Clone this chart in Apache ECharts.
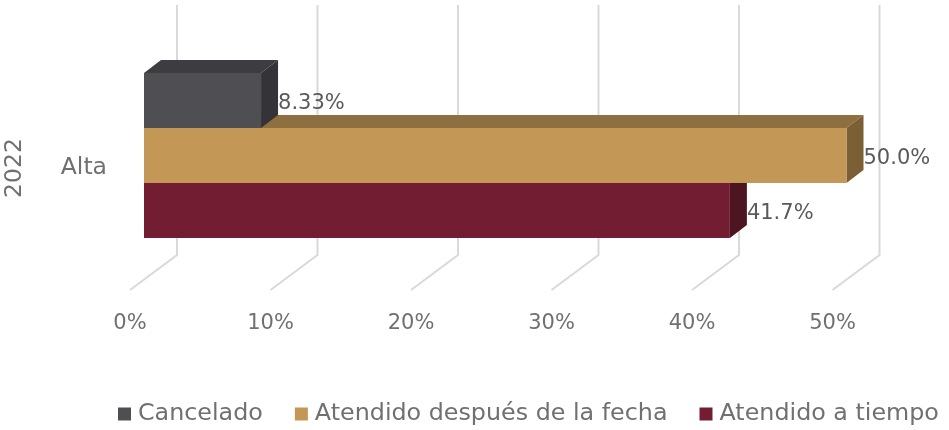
<!DOCTYPE html>
<html>
<head>
<meta charset="utf-8">
<script src="https://cdn.jsdelivr.net/npm/echarts@6/dist/echarts.min.js"></script>
<style>
	html,body{margin:0;padding:0;background:#fff;}
	#main{width:949px;height:430px;}
</style>
</head>
<body>
<div id="main"></div>
<script>
;(function(){
	// datos
	var categories = ['Alta'];
	var yearName = '2022';
	var seriesNames = ['Cancelado', 'Atendido después de la fecha', 'Atendido a tiempo'];
	var cancelado = [8.33];
	var atendidoDespues = [50.0];
	var atendidoTiempo = [41.7];
	var ticks = [0, 10, 20, 30, 40, 50];

	var font = 'DejaVu Sans';
	var textColor = '#707070';
	var labelColor = '#5a5a5a';
	// colores: frente, arriba, lado
	var colors = [
		['#4f4e52', '#3d3c40', '#343337'],
		['#c39755', '#8e6f3f', '#7b6036'],
		['#731d32', '#5a1727', '#4d1421']
	];
	var depthX = 17, depthY = -13;   // profundidad de la barra
	var barH = 55;

	//caja 3d
	function box(idx){
		return function(params, api){
			var v = api.value(0);
			var c = colors[idx];
			var p0 = api.coord([0, api.value(1)]);
			var p1 = api.coord([v, api.value(1)]);
			var x0 = p0[0] + 14, x1 = p1[0] + 14;
			var y0 = p0[1] - 95 + idx * barH, y1 = y0 + barH;
			var dx = depthX, dy = depthY;
			return {
				type: 'group',
				children: [
					{type: 'polygon', shape: {points: [[x0, y0], [x0 + dx, y0 + dy], [x1 + dx, y0 + dy], [x1, y0]]}, style: {fill: c[1]}},
					{type: 'polygon', shape: {points: [[x1, y0], [x1 + dx, y0 + dy], [x1 + dx, y1 + dy], [x1, y1]]}, style: {fill: c[2]}},
					{type: 'rect', shape: {x: x0, y: y0, width: x1 - x0, height: barH}, style: {fill: c[0]}},
					{type: 'text', x: x1 + dx, y: (y0 + y1) / 2 + 3, style: {
						text: v.toPrecision(3) + '%', fill: labelColor, font: '21px ' + font,
						verticalAlign: 'middle', align: 'left'}}
				]
			};
		};
	}

	function toData(arr){
		var d = [];
		for (var i = 0; i < arr.length; i++) {
			d.push([arr[i], categories[i]]);
		}
		return d;
	}

	var option = {
		animation: false,
		textStyle: {fontFamily: font},
		grid: {left: 130, right: 116.5, top: 46, bottom: 140, outerBoundsMode: 'none', containLabel: false},
		legend: {
			data: seriesNames,
			bottom: -1,
			left: 113,
			icon: 'rect',
			itemWidth: 13,
			itemHeight: 13,
			itemGap: 32,
			textStyle: {color: textColor, fontSize: 23.8, fontFamily: font, padding: [0, 0, 0, 2]}
		},
		xAxis: {
			type: 'value', min: 0, max: 50, interval: 10,
			axisLine: {show: false}, axisTick: {show: false}, splitLine: {show: false},
			axisLabel: {color: textColor, fontSize: 21, fontFamily: font, margin: 23, formatter: '{value}%'}
		},
		yAxis: {
			type: 'category', data: categories,
			name: yearName, nameLocation: 'middle', nameRotate: 90, nameGap: 103,
			nameTextStyle: {color: textColor, fontSize: 23.5, fontFamily: font},
			axisLine: {show: false}, axisTick: {show: false},
			axisLabel: {color: textColor, fontSize: 23.5, fontFamily: font, margin: 23}
		},
		series: [
			{
				// paredes y piso
				type: 'custom', silent: true, z: 1,
				data: ticks.map(function(t){ return [t, categories[0]]; }),
				renderItem: function(params, api){
					var x = api.coord([api.value(0), categories[0]])[0];
					var st = {stroke: '#d9d9d9', lineWidth: 2, fill: null};
					return {
						type: 'polyline',
						shape: {points: [[x + 47, 5], [x + 47, 255], [x, 290]]},
						style: st
					};
				}
			},
			{name: seriesNames[0], type: 'custom', z: 4, itemStyle: {color: colors[0][0]}, data: toData(cancelado), renderItem: box(0)},
			{name: seriesNames[1], type: 'custom', z: 3, itemStyle: {color: colors[1][0]}, data: toData(atendidoDespues), renderItem: box(1)},
			{name: seriesNames[2], type: 'custom', z: 2, itemStyle: {color: colors[2][0]}, data: toData(atendidoTiempo), renderItem: box(2)}
		]
	};

	var myChart = echarts.init(document.getElementById('main'));
	myChart.setOption(option);
})();
</script>
</body>
</html>
